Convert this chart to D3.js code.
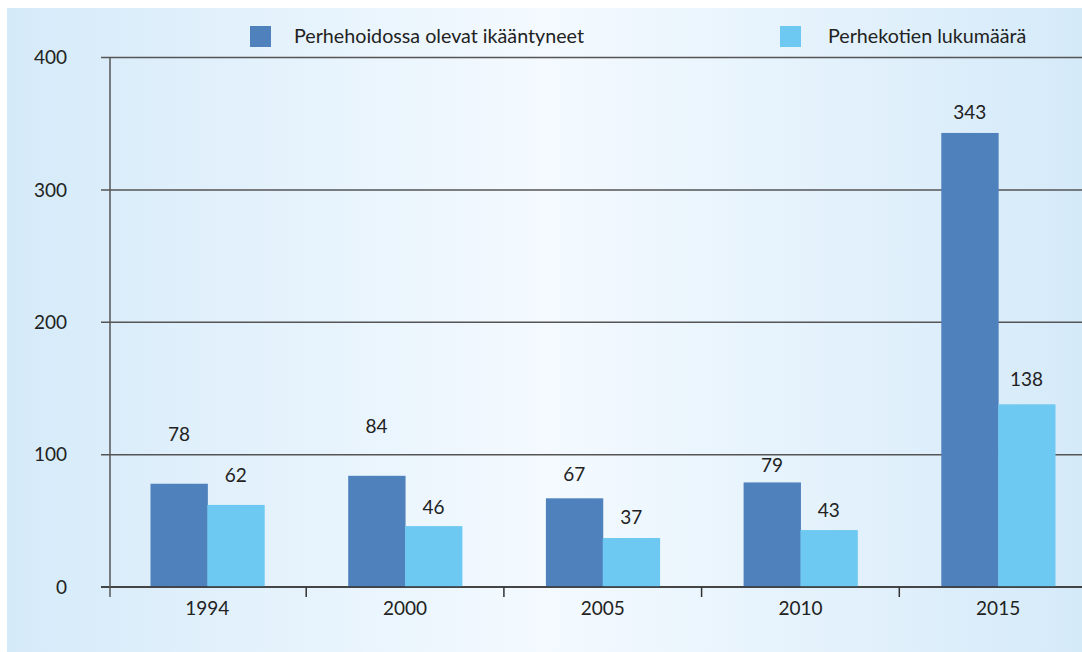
<!DOCTYPE html>
<html><head><meta charset="utf-8">
<script src="https://cdn.jsdelivr.net/npm/d3@7"></script>
<style>html,body{margin:0;padding:0;background:#fff;}svg{display:block;}</style>
</head><body>
<script>
const years = ["1994", "2000", "2005", "2010", "2015"];
const seriesNames = ["Perhehoidossa olevat ikääntyneet", "Perhekotien lukumäärä"];
const elderly = [78, 84, 67, 79, 343];
const homes = [62, 46, 37, 43, 138];
const yTicks = [0, 100, 200, 300, 400];
// label lift above bar top (px), as placed in the original
const elderlyLabelLift = [49, 49, 24, 17, 21];
const homesLabelLift = [30, 19, 21, 20, 25];

const W = 1082, H = 652;
const colors = ["#4f81bd", "#6dc9f1"];
const font = "Lato, 'Open Sans', sans-serif";

const svg = d3.select("body").append("svg").attr("width", W).attr("height", H);
const defs = svg.append("defs");
const grad = defs.append("linearGradient").attr("id", "bg").attr("x1", "0%").attr("x2", "100%");
grad.append("stop").attr("offset", "0%").attr("stop-color", "#d5eaf9");
grad.append("stop").attr("offset", "50%").attr("stop-color", "#f4faff");
grad.append("stop").attr("offset", "100%").attr("stop-color", "#d5eaf9");
svg.append("rect").attr("x", 7).attr("y", 8).attr("width", W - 7).attr("height", H - 8).attr("fill", "url(#bg)");

const y = d3.scaleLinear().domain([0, 400]).range([587, 57.5]);
const x0 = d3.scaleBand().domain(years).range([108.5, 1097]);
const x1 = d3.scaleBand().domain([0, 1]).range([42, x0.bandwidth() - 42]);

// gridlines
const g = svg.append("g");
g.selectAll("line.grid").data(yTicks).join("line")
  .attr("x1", 101).attr("x2", W).attr("y1", d => y(d)).attr("y2", d => y(d))
  .attr("stroke", "#555").attr("stroke-width", 1.5);

// y tick labels
g.selectAll("text.yt").data(yTicks).join("text")
  .attr("x", 67).attr("y", d => y(d)).attr("dy", "0.35em")
  .attr("text-anchor", "end").attr("font-family", font).attr("font-size", 19).attr("fill", "#222")
  .text(d => d);

// bars
const data = years.map((yr, i) => ({ yr, vals: [elderly[i], homes[i]], lifts: [elderlyLabelLift[i], homesLabelLift[i]] }));
const grp = svg.append("g").selectAll("g").data(data).join("g")
  .attr("transform", d => `translate(${x0(d.yr)},0)`);
grp.selectAll("rect").data(d => d.vals.map((v, s) => ({ v, s }))).join("rect")
  .attr("x", d => x1(d.s)).attr("width", x1.bandwidth() + 0.5)
  .attr("y", d => y(d.v)).attr("height", d => y(0) - y(d.v))
  .attr("fill", d => colors[d.s]);
grp.selectAll("text").data(d => d.vals.map((v, s) => ({ v, s, lift: d.lifts[s] }))).join("text")
  .attr("x", d => x1(d.s) + x1.bandwidth() / 2).attr("y", d => y(d.v) - d.lift).attr("dy", "0.35em")
  .attr("text-anchor", "middle").attr("font-family", font).attr("font-size", 19).attr("fill", "#222")
  .text(d => d.v);

// axes
svg.append("line").attr("x1", 101).attr("x2", W).attr("y1", y(0)).attr("y2", y(0)).attr("stroke", "#333").attr("stroke-width", 1.5);
svg.append("line").attr("x1", 110).attr("x2", 110).attr("y1", y(400)).attr("y2", 597).attr("stroke", "#555").attr("stroke-width", 1.5);
const bounds = years.map(yr => x0(yr) + x0.bandwidth());
svg.selectAll("line.xt").data(bounds).join("line")
  .attr("x1", d => d).attr("x2", d => d).attr("y1", y(0)).attr("y2", 597)
  .attr("stroke", "#333").attr("stroke-width", 1.5);
svg.selectAll("text.xl").data(years).join("text")
  .attr("x", d => x0(d) + x0.bandwidth() / 2).attr("y", 608).attr("dy", "0.35em")
  .attr("text-anchor", "middle").attr("font-family", font).attr("font-size", 19).attr("fill", "#222")
  .text(d => d);

// legend
const legX = [250, 780], legTextX = [294, 828];
seriesNames.forEach((name, i) => {
  svg.append("rect").attr("x", legX[i]).attr("y", 26).attr("width", 21).attr("height", 21).attr("fill", colors[i]);
  svg.append("text").attr("x", legTextX[i]).attr("y", 36.5).attr("dy", "0.35em")
    .attr("font-family", font).attr("font-size", 19.7).attr("fill", "#222").text(name);
});
</script>
</body></html>
